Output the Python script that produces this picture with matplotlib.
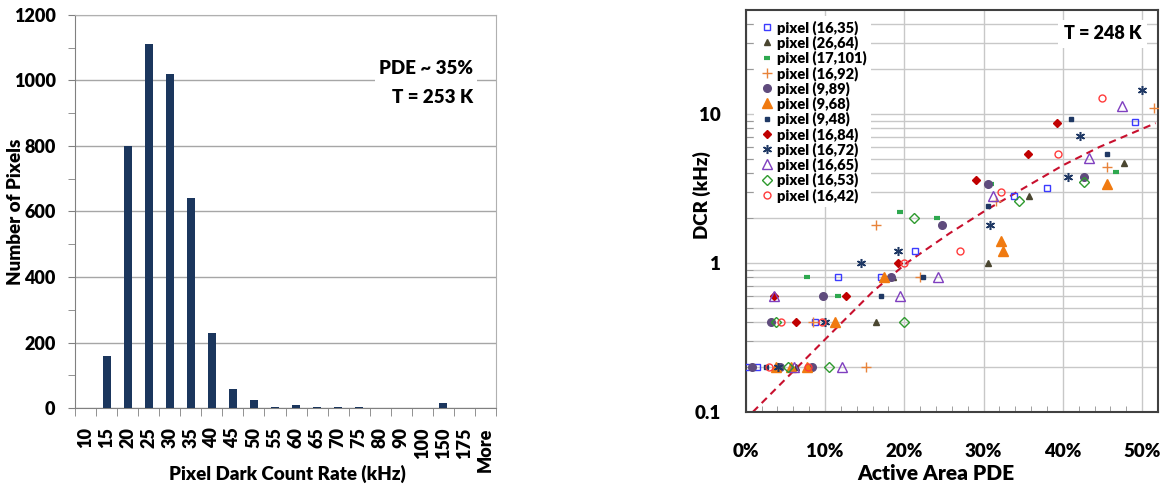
import matplotlib
matplotlib.use('Agg')
import matplotlib.pyplot as plt
from matplotlib.ticker import FixedLocator, MultipleLocator, NullFormatter
import numpy as np

plt.rcParams['font.family'] = ['Lato', 'DejaVu Sans']
plt.rcParams['font.weight'] = 'heavy'
W = 'heavy'

# ==============================================================================
# 1. DATOS - HISTOGRAMA DCR (T = 253 K)
# ==============================================================================
bins = ['10', '15', '20', '25', '30', '35', '40', '45', '50', '55', '60', '65',
        '70', '75', '80', '90', '100', '150', '175', 'More']
counts = [1, 160, 800, 1110, 1020, 640, 230, 58, 23, 4, 9, 4, 4, 4, 0, 0, 1, 14, 1, 0]

# ==============================================================================
# 2. DATOS - DCR vs PDE POR PIXEL (T = 248 K)
# ==============================================================================
pixel_names = ['pixel (16,35)', 'pixel (26,64)', 'pixel (17,101)', 'pixel (16,92)',
               'pixel (9,89)', 'pixel (9,68)', 'pixel (9,48)', 'pixel (16,84)',
               'pixel (16,72)', 'pixel (16,65)', 'pixel (16,53)', 'pixel (16,42)']

pde_16_35 = [0.0, 1.4, 8.8, 11.6, 17.1, 21.4, 33.8, 38.0, 49.1]
dcr_16_35 = [0.2, 0.2, 0.4, 0.8, 0.8, 1.2, 2.8, 3.2, 8.9]
pde_26_64 = [6.3, 16.4, 18.6, 30.6, 35.7, 47.7]
dcr_26_64 = [0.2, 0.4, 0.8, 1.0, 2.8, 4.7]
pde_17_101 = [7.7, 11.6, 19.5, 24.1, 30.9, 46.7]
dcr_17_101 = [0.8, 0.6, 2.2, 2.0, 3.4, 4.1]
pde_16_92 = [8.5, 15.2, 16.4, 22.0, 31.6, 45.6, 51.5]
dcr_16_92 = [0.4, 0.2, 1.8, 0.8, 2.6, 4.4, 10.9]
pde_9_89 = [0.8, 4.3, 8.3, 3.2, 9.8, 18.3, 24.8, 30.6, 42.7]
dcr_9_89 = [0.2, 0.2, 0.2, 0.4, 0.6, 0.8, 1.8, 3.4, 3.8]
pde_9_68 = [3.8, 5.7, 7.7, 11.2, 17.4, 32.2, 32.4, 45.6]
dcr_9_68 = [0.2, 0.2, 0.2, 0.4, 0.8, 1.4, 1.2, 3.4]
pde_9_48 = [2.5, 17.1, 22.4, 30.6, 41.0, 45.6]
dcr_9_48 = [0.2, 0.6, 0.8, 2.4, 9.3, 5.4]
pde_16_84 = [3.6, 6.3, 12.7, 19.2, 29.1, 35.6, 39.3]
dcr_16_84 = [0.6, 0.4, 0.6, 1.0, 3.6, 5.4, 8.7]
pde_16_72 = [4.05, 10.0, 14.6, 19.2, 30.8, 40.7, 42.1, 50.0]
dcr_16_72 = [0.2, 0.4, 1.0, 1.2, 1.8, 3.8, 7.1, 14.4]
pde_16_65 = [3.6, 6.1, 12.1, 19.5, 24.2, 31.2, 43.3, 47.4]
dcr_16_65 = [0.6, 0.2, 0.2, 0.6, 0.8, 2.8, 5.1, 11.3]
pde_16_53 = [3.8, 5.3, 10.5, 20.0, 21.2, 34.5, 42.7]
dcr_16_53 = [0.4, 0.2, 0.2, 0.4, 2.0, 2.6, 3.5]
pde_16_42 = [2.9, 4.5, 7.9, 9.6, 20.0, 27.0, 32.2, 39.4, 44.9]
dcr_16_42 = [0.2, 0.4, 0.2, 0.4, 1.0, 1.2, 3.0, 5.4, 12.8]

# linea de tendencia
trend_pde = [0.9, 8.5, 16.0, 20.3, 25.7, 30.3, 40.0, 44.6, 51.7]
trend_dcr = [0.1, 0.255, 0.64, 1.0, 1.58, 2.26, 4.52, 6.0, 8.68]

series_pde = [pde_16_35, pde_26_64, pde_17_101, pde_16_92, pde_9_89, pde_9_68,
              pde_9_48, pde_16_84, pde_16_72, pde_16_65, pde_16_53, pde_16_42]
series_dcr = [dcr_16_35, dcr_26_64, dcr_17_101, dcr_16_92, dcr_9_89, dcr_9_68,
              dcr_9_48, dcr_16_84, dcr_16_72, dcr_16_65, dcr_16_53, dcr_16_42]

# estilo de marcadores (estilo Excel)
estilos = [
    dict(marker='s', ms=4, mfc='none', mec='#3b3bff', mew=1.0),
    dict(marker='^', ms=5, mfc='#4a4630', mec='#4a4630'),
    dict(marker='_', ms=5, mec='#2ea84f', mew=3.0),
    dict(marker='+', ms=7, mec='#e8833a', mew=1.0),
    dict(marker='o', ms=5.5, mfc='#5f4b7d', mec='#5f4b7d'),
    dict(marker='^', ms=6.5, mfc='#f07a10', mec='#f07a10'),
    dict(marker='s', ms=3.5, mfc='#1f3864', mec='#1f3864'),
    dict(marker='D', ms=4, mfc='#c00000', mec='#c00000'),
    dict(marker=(6, 2, 0), ms=6.5, mec='#1f3864', mew=1.1),
    dict(marker='^', ms=7, mfc='none', mec='#7f3fbf', mew=1.0),
    dict(marker='D', ms=5, mfc='none', mec='#2e9a2e', mew=1.0),
    dict(marker='o', ms=5, mfc='none', mec='#ff3b3b', mew=1.0),
]

# ==============================================================================
# 3. FIGURA
# ==============================================================================
fig = plt.figure(figsize=(11.67, 4.91), dpi=100)
ax1 = fig.add_axes([0.0643, 0.169, 0.3607, 0.8005])
ax2 = fig.add_axes([0.639, 0.161, 0.3533, 0.819])

# --- Histograma ---
x = np.arange(len(bins))
ax1.bar(x, counts, width=0.38, color='#1b365d', zorder=3)
ax1.set_xlim(-0.5, len(bins) - 0.5)
ax1.set_ylim(0, 1200)
ax1.set_yticks(np.arange(0, 1201, 200))
ax1.yaxis.set_minor_locator(MultipleLocator(100))
ax1.set_xticks(x)
ax1.set_xticklabels(bins, rotation=90, fontsize=13, fontweight=W)
ax1.xaxis.set_minor_locator(FixedLocator(np.arange(-0.5, len(bins), 1.0)))
ax1.tick_params(axis='x', which='major', length=0, pad=14)
ax1.tick_params(axis='x', which='minor', length=6, color='#808080', direction='out')
ax1.tick_params(axis='y', which='both', length=5, color='#808080', direction='out')
ax1.tick_params(axis='y', which='major', labelsize=13, pad=9)
for lbl in ax1.get_yticklabels():
    lbl.set_fontweight(W)
ax1.grid(axis='y', color='#a6a6a6', lw=1.0, zorder=0)
for s in ['left', 'bottom']:
    ax1.spines[s].set_color('#808080')
for s in ['top', 'right']:
    ax1.spines[s].set_color('#b0b0b0')
ax1.set_ylabel('Number of Pixels', fontsize=13.5, fontweight=W)
ax1.yaxis.set_label_coords(-0.122, 0.5)
ax1.set_xlabel('Pixel Dark Count Rate (kHz)', fontsize=13.5, fontweight=W)
ax1.xaxis.set_label_coords(0.505, -0.145)
ax1.text(0.945, 0.826, 'PDE ~ 35%\nT = 253 K', transform=ax1.transAxes,
         ha='right', va='center', fontsize=13.5, fontweight=W,
         linespacing=1.85, zorder=4,
         bbox=dict(facecolor='white', edgecolor='none', pad=3))

# --- DCR vs PDE ---
for pde, dcr, nombre, est in zip(series_pde, series_dcr, pixel_names, estilos):
    ax2.plot(np.array(pde) / 100, dcr, ls='none', label=nombre, zorder=3, **est)
ax2.plot(np.array(trend_pde) / 100, trend_dcr, color='#c8102e', ls=(0, (3.5, 2.5)),
         lw=1.5, zorder=2)

ax2.set_yscale('log')
ax2.set_ylim(0.1, 50)
ax2.set_xlim(0, 0.52)
ax2.yaxis.set_major_locator(FixedLocator([0.1, 1, 10]))
ax2.set_yticklabels(['0.1', '1', '10'], fontsize=13.5, fontweight=W)
ax2.yaxis.set_minor_locator(FixedLocator(
    [m * d for d in [0.1, 1, 10] for m in range(2, 10) if m * d < 50]))
ax2.yaxis.set_minor_formatter(NullFormatter())
ax2.set_xticks(np.arange(0, 0.51, 0.1))
ax2.set_xticklabels(['0%', '10%', '20%', '30%', '40%', '50%'], fontsize=13.5,
                    fontweight=W)
ax2.xaxis.set_minor_locator(MultipleLocator(0.02))
ax2.tick_params(axis='x', which='major', length=0, pad=22)
ax2.tick_params(axis='x', which='minor', length=4, direction='in', color='#909090')
ax2.tick_params(axis='y', which='major', length=0, pad=18)
ax2.tick_params(axis='y', which='minor', length=5, direction='in', color='#909090')
ax2.grid(which='both', axis='y', color='#c8c8c8', lw=1.0, zorder=0)
ax2.grid(which='major', axis='x', color='#c8c8c8', lw=1.0, zorder=0)
for s in ax2.spines.values():
    s.set_color('#404040')
    s.set_linewidth(1.5)

ax2.set_ylabel('DCR (kHz)', fontsize=13.5, fontweight=W)
ax2.yaxis.set_label_coords(-0.083, 0.54)
ax2.set_xlabel('Active Area PDE', fontsize=15, fontweight=W)
ax2.xaxis.set_label_coords(0.461, -0.13)

leg = ax2.legend(loc='upper left', bbox_to_anchor=(0.02, 0.985), fontsize=10.5,
                 frameon=True, facecolor='white', edgecolor='none', framealpha=1,
                 labelspacing=0.045, handletextpad=0.1, handlelength=1.2,
                 borderpad=0.3, borderaxespad=0)
for t in leg.get_texts():
    t.set_fontweight(W)

ax2.text(0.865, 0.94, 'T = 248 K', transform=ax2.transAxes, ha='center',
         va='center', fontsize=13, fontweight=W, zorder=4,
         bbox=dict(facecolor='white', edgecolor='none', pad=4))

fig.savefig('out.png', dpi=100)
